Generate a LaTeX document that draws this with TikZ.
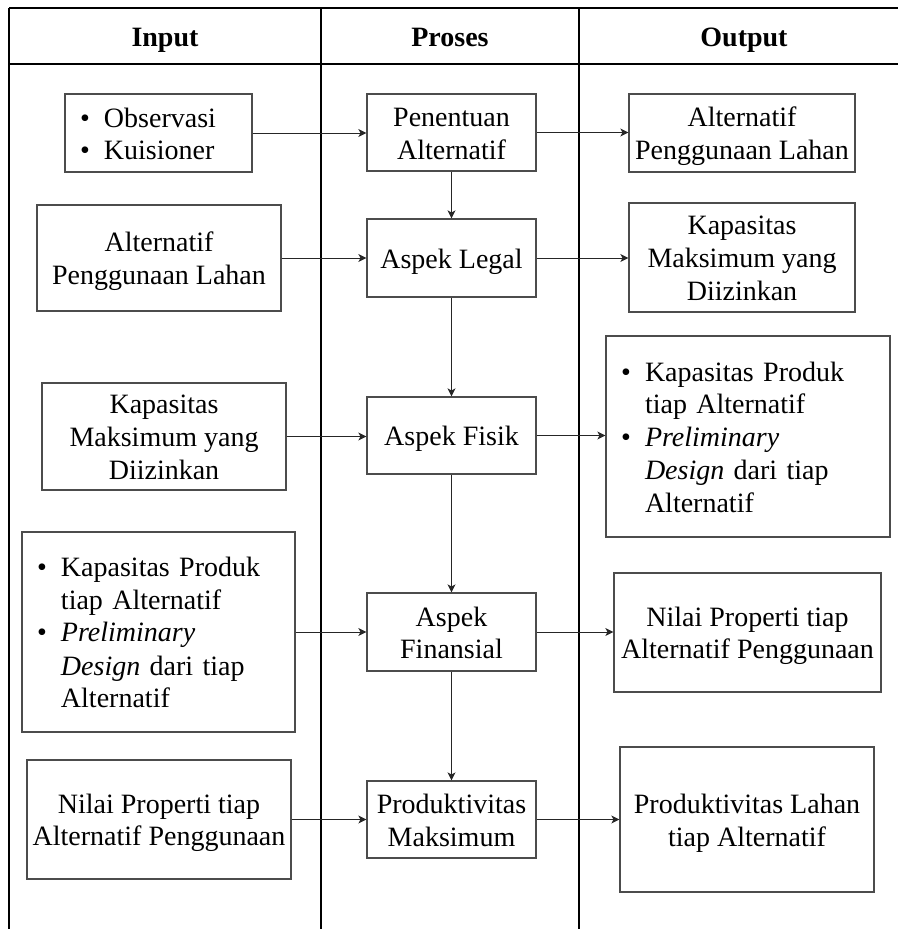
\documentclass[tikz,border=0pt]{standalone}
\usepackage{fontspec}
\setmainfont{Liberation Serif}
\usetikzlibrary{arrows.meta}
\newcommand{\diafont}{\fontsize{28}{32.5}\selectfont}
\newcommand{\ts}{\rule[-6pt]{0pt}{32.5pt}}
\newcommand{\bitem}[1]{\makebox[24pt][l]{\textbullet}#1\ts}
\newcommand{\bcont}[1]{\makebox[24pt][l]{}#1\ts}
\begin{document}
\begin{tikzpicture}[x=1pt,y=-1pt,
  frame/.style={line width=1.3pt, draw=black},
  box/.style={draw=black!70, line width=1.2pt, inner sep=0pt, align=center, font=\diafont},
  blist/.style={draw=black!70, line width=1.2pt, inner ysep=0pt, inner xsep=15pt, align=left, font=\diafont},
  arr/.style={draw=black!85, line width=1pt, -{Stealth[length=8pt,width=8pt,inset=2pt]}},
  head/.style={font=\diafont\bfseries, inner sep=0pt}]
\useasboundingbox (0,0) rectangle (898,929);
% frame
\draw[frame] (9,8) -- (898,8);
\draw[frame] (9,64) -- (898,64);
\draw[frame] (9,8) -- (9,929);
\draw[frame] (321,8) -- (321,929);
\draw[frame] (579,8) -- (579,929);
% headers
\node[head] (hin) at (165,36) {Input\ts};
\node[head] (hpr) at (450,36) {Proses\ts};
\node[head] (hout) at (744,36) {Output\ts};
% input column
\node[blist, text width=157pt, minimum height=78pt] (in1) at (158.5,133)
  {\bitem{Observasi}\\\bitem{Kuisioner}};
\node[box, minimum width=244pt, minimum height=106pt] (in2) at (159,258)
  {Alternatif\ts\\Penggunaan Lahan\ts};
\node[box, minimum width=244pt, minimum height=107pt] (in3) at (164,436.5)
  {Kapasitas\ts\\Maksimum yang\ts\\Diizinkan\ts};
\node[blist, text width=243pt, minimum height=200pt] (in4) at (158.5,632)
  {\bitem{Kapasitas Produk}\\\bcont{tiap Alternatif}\\\bitem{\textit{Preliminary}}\\\bcont{\textit{Design} dari tiap}\\\bcont{Alternatif}};
\node[box, minimum width=264pt, minimum height=119pt] (in5) at (159,819.5)
  {Nilai Properti tiap\ts\\Alternatif Penggunaan\ts};
% process column
\node[box, minimum width=169pt, minimum height=77pt] (p1) at (451.5,132.5) {Penentuan\ts\\Alternatif\ts};
\node[box, minimum width=169pt, minimum height=78pt] (p2) at (451.5,258) {Aspek Legal\ts};
\node[box, minimum width=169pt, minimum height=77pt] (p3) at (451.5,435.5) {Aspek Fisik\ts};
\node[box, minimum width=169pt, minimum height=78pt] (p4) at (451.5,632) {Aspek\ts\\Finansial\ts};
\node[box, minimum width=169pt, minimum height=77pt] (p5) at (451.5,819.5) {Produktivitas\ts\\Maksimum\ts};
% output column
\node[box, minimum width=226pt, minimum height=78pt] (o1) at (742,133)
  {Alternatif\ts\\Penggunaan Lahan\ts};
\node[box, minimum width=226pt, minimum height=109pt] (o2) at (742,257.5)
  {Kapasitas\ts\\Maksimum yang\ts\\Diizinkan\ts};
\node[blist, text width=254pt, minimum height=201pt] (o3) at (748,436.5)
  {\bitem{Kapasitas Produk}\\\bcont{tiap Alternatif}\\\bitem{\textit{Preliminary}}\\\bcont{\textit{Design} dari tiap}\\\bcont{Alternatif}};
\node[box, minimum width=267pt, minimum height=119pt] (o4) at (747.5,632.5)
  {Nilai Properti tiap\ts\\Alternatif Penggunaan\ts};
\node[box, minimum width=254pt, minimum height=145pt] (o5) at (747,819.5)
  {Produktivitas Lahan\ts\\tiap Alternatif\ts};
% arrows input -> process
\draw[arr] (in1.east) -- (in1.east -| p1.west);
\draw[arr] (in2.east) -- (in2.east -| p2.west);
\draw[arr] (in3.east) -- (in3.east -| p3.west);
\draw[arr] (in4.east) -- (in4.east -| p4.west);
\draw[arr] (in5.east) -- (in5.east -| p5.west);
% arrows process -> output
\draw[arr] (p1.east) -- (p1.east -| o1.west);
\draw[arr] (p2.east) -- (p2.east -| o2.west);
\draw[arr] (p3.east) -- (p3.east -| o3.west);
\draw[arr] (p4.east) -- (p4.east -| o4.west);
\draw[arr] (p5.east) -- (p5.east -| o5.west);
% vertical arrows
\draw[arr] (p1.south) -- (p2.north);
\draw[arr] (p2.south) -- (p3.north);
\draw[arr] (p3.south) -- (p4.north);
\draw[arr] (p4.south) -- (p5.north);
\end{tikzpicture}
\end{document}
